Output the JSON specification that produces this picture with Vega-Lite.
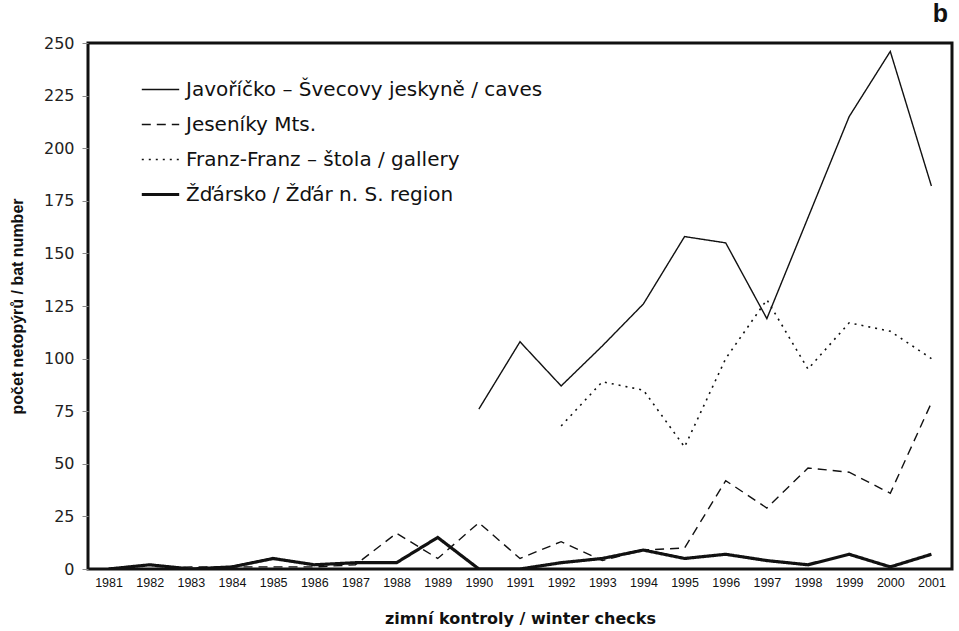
{
  "$schema": "https://vega.github.io/schema/vega-lite/v6.json",
  "autosize": "none",
  "padding": {"left": 88, "top": 43, "right": 7, "bottom": 62},
  "width": 864,
  "height": 526,
  "background": "white",
  "title": {"text": "b", "anchor": "end", "fontSize": 25, "fontWeight": "bold", "font": "Liberation Sans", "color": "#111", "offset": 8, "dx": -4},
  "config": {
    "font": "Liberation Sans",
    "view": {"stroke": "#111", "strokeWidth": 3}
  },
  "data": {
    "values": [
      {"year": "1990", "series": "Javoříčko – Švecovy jeskyně / caves", "n": 76},
      {"year": "1991", "series": "Javoříčko – Švecovy jeskyně / caves", "n": 108},
      {"year": "1992", "series": "Javoříčko – Švecovy jeskyně / caves", "n": 87},
      {"year": "1993", "series": "Javoříčko – Švecovy jeskyně / caves", "n": 106},
      {"year": "1994", "series": "Javoříčko – Švecovy jeskyně / caves", "n": 126},
      {"year": "1995", "series": "Javoříčko – Švecovy jeskyně / caves", "n": 158},
      {"year": "1996", "series": "Javoříčko – Švecovy jeskyně / caves", "n": 155},
      {"year": "1997", "series": "Javoříčko – Švecovy jeskyně / caves", "n": 119},
      {"year": "1998", "series": "Javoříčko – Švecovy jeskyně / caves", "n": 167},
      {"year": "1999", "series": "Javoříčko – Švecovy jeskyně / caves", "n": 215},
      {"year": "2000", "series": "Javoříčko – Švecovy jeskyně / caves", "n": 246},
      {"year": "2001", "series": "Javoříčko – Švecovy jeskyně / caves", "n": 182},
      {"year": "1981", "series": "Jeseníky Mts.", "n": 0},
      {"year": "1982", "series": "Jeseníky Mts.", "n": 0},
      {"year": "1983", "series": "Jeseníky Mts.", "n": 1},
      {"year": "1984", "series": "Jeseníky Mts.", "n": 1},
      {"year": "1985", "series": "Jeseníky Mts.", "n": 1},
      {"year": "1986", "series": "Jeseníky Mts.", "n": 1},
      {"year": "1987", "series": "Jeseníky Mts.", "n": 2},
      {"year": "1988", "series": "Jeseníky Mts.", "n": 17},
      {"year": "1989", "series": "Jeseníky Mts.", "n": 5},
      {"year": "1990", "series": "Jeseníky Mts.", "n": 22},
      {"year": "1991", "series": "Jeseníky Mts.", "n": 5},
      {"year": "1992", "series": "Jeseníky Mts.", "n": 13},
      {"year": "1993", "series": "Jeseníky Mts.", "n": 4},
      {"year": "1994", "series": "Jeseníky Mts.", "n": 9},
      {"year": "1995", "series": "Jeseníky Mts.", "n": 10},
      {"year": "1996", "series": "Jeseníky Mts.", "n": 42},
      {"year": "1997", "series": "Jeseníky Mts.", "n": 29},
      {"year": "1998", "series": "Jeseníky Mts.", "n": 48},
      {"year": "1999", "series": "Jeseníky Mts.", "n": 46},
      {"year": "2000", "series": "Jeseníky Mts.", "n": 36},
      {"year": "2001", "series": "Jeseníky Mts.", "n": 79},
      {"year": "1992", "series": "Franz-Franz – štola / gallery", "n": 68},
      {"year": "1993", "series": "Franz-Franz – štola / gallery", "n": 89},
      {"year": "1994", "series": "Franz-Franz – štola / gallery", "n": 85},
      {"year": "1995", "series": "Franz-Franz – štola / gallery", "n": 58},
      {"year": "1996", "series": "Franz-Franz – štola / gallery", "n": 100},
      {"year": "1997", "series": "Franz-Franz – štola / gallery", "n": 128},
      {"year": "1998", "series": "Franz-Franz – štola / gallery", "n": 95},
      {"year": "1999", "series": "Franz-Franz – štola / gallery", "n": 117},
      {"year": "2000", "series": "Franz-Franz – štola / gallery", "n": 113},
      {"year": "2001", "series": "Franz-Franz – štola / gallery", "n": 100},
      {"year": "1981", "series": "Žďársko / Žďár n. S. region", "n": 0},
      {"year": "1982", "series": "Žďársko / Žďár n. S. region", "n": 2},
      {"year": "1983", "series": "Žďársko / Žďár n. S. region", "n": 0},
      {"year": "1984", "series": "Žďársko / Žďár n. S. region", "n": 1},
      {"year": "1985", "series": "Žďársko / Žďár n. S. region", "n": 5},
      {"year": "1986", "series": "Žďársko / Žďár n. S. region", "n": 2},
      {"year": "1987", "series": "Žďársko / Žďár n. S. region", "n": 3},
      {"year": "1988", "series": "Žďársko / Žďár n. S. region", "n": 3},
      {"year": "1989", "series": "Žďársko / Žďár n. S. region", "n": 15},
      {"year": "1990", "series": "Žďársko / Žďár n. S. region", "n": 0},
      {"year": "1991", "series": "Žďársko / Žďár n. S. region", "n": 0},
      {"year": "1992", "series": "Žďársko / Žďár n. S. region", "n": 3},
      {"year": "1993", "series": "Žďársko / Žďár n. S. region", "n": 5},
      {"year": "1994", "series": "Žďársko / Žďár n. S. region", "n": 9},
      {"year": "1995", "series": "Žďársko / Žďár n. S. region", "n": 5},
      {"year": "1996", "series": "Žďársko / Žďár n. S. region", "n": 7},
      {"year": "1997", "series": "Žďársko / Žďár n. S. region", "n": 4},
      {"year": "1998", "series": "Žďársko / Žďár n. S. region", "n": 2},
      {"year": "1999", "series": "Žďársko / Žďár n. S. region", "n": 7},
      {"year": "2000", "series": "Žďársko / Žďár n. S. region", "n": 1},
      {"year": "2001", "series": "Žďársko / Žďár n. S. region", "n": 7}
    ]
  },
  "mark": {"type": "line", "color": "#111", "strokeJoin": "miter", "clip": true},
  "encoding": {
    "x": {
      "field": "year", "type": "ordinal",
      "scale": {"type": "point", "padding": 0.5},
      "axis": {
        "title": "zimní kontroly / winter checks",
        "titleFont": "DejaVu Sans", "titleFontSize": 16, "titleFontWeight": "bold", "titleColor": "#111", "titlePadding": 22,
        "labelAngle": 0, "labelFont": "Liberation Sans", "labelFontSize": 12.5, "labelColor": "#111", "labelPadding": 7,
        "ticks": false, "domain": false, "grid": false
      }
    },
    "y": {
      "field": "n", "type": "quantitative",
      "scale": {"domain": [0, 250], "nice": false},
      "axis": {
        "title": "počet netopýrů / bat number",
        "titleFont": "Liberation Sans", "titleFontSize": 16, "titleFontWeight": "bold", "titleColor": "#111", "titlePadding": 18,
        "values": [0, 25, 50, 75, 100, 125, 150, 175, 200, 225, 250],
        "labelFont": "DejaVu Sans", "labelFontSize": 16, "labelColor": "#222", "labelPadding": 8,
        "tickSize": 6, "tickColor": "#888", "domain": false, "grid": false
      }
    },
    "strokeDash": {
      "field": "series", "type": "nominal",
      "scale": {
        "domain": ["Javoříčko – Švecovy jeskyně / caves", "Jeseníky Mts.", "Franz-Franz – štola / gallery", "Žďársko / Žďár n. S. region"],
        "range": [[1, 0], [9, 6], [2, 5], [1, 0]]
      },
      "legend": {
        "title": null, "orient": "none", "legendX": 52, "legendY": 29,
        "symbolType": "stroke", "symbolSize": 1400, "symbolStrokeColor": "#111", "clipHeight": 35,
        "labelFont": "DejaVu Sans", "labelFontSize": 20, "labelColor": "#111", "labelOffset": 5, "rowPadding": 0, "labelLimit": 600
      }
    },
    "strokeWidth": {
      "field": "series", "type": "nominal",
      "scale": {
        "type": "ordinal",
        "domain": ["Javoříčko – Švecovy jeskyně / caves", "Jeseníky Mts.", "Franz-Franz – štola / gallery", "Žďársko / Žďár n. S. region"],
        "range": [1.4, 1.4, 1.6, 3.2]
      },
      "legend": {
        "title": null, "orient": "none", "legendX": 52, "legendY": 29,
        "symbolType": "stroke", "symbolSize": 1400, "symbolStrokeColor": "#111", "clipHeight": 35,
        "labelFont": "DejaVu Sans", "labelFontSize": 20, "labelColor": "#111", "labelOffset": 5, "rowPadding": 0, "labelLimit": 600
      }
    }
  }
}
